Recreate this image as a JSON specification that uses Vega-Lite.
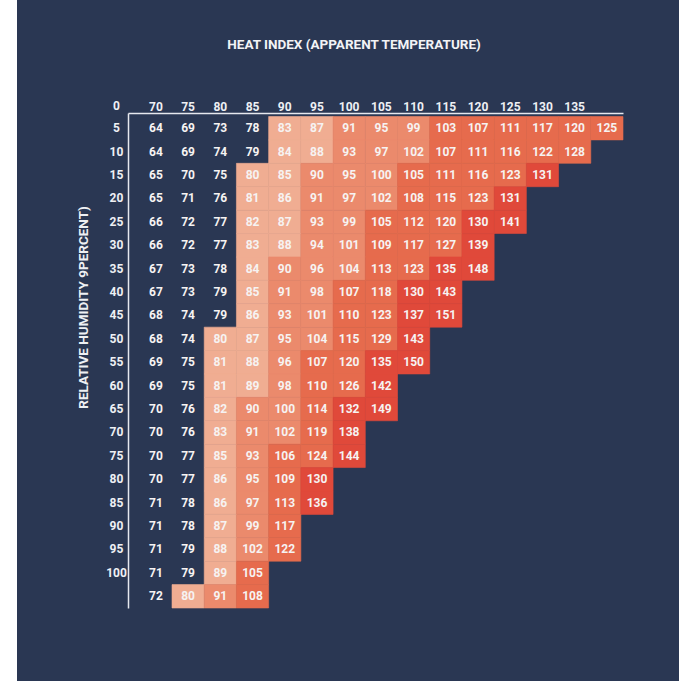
{
  "$schema": "https://vega.github.io/schema/vega-lite/v6.json",
  "width": 662,
  "height": 681,
  "autosize": {"type": "none"},
  "padding": {"left": 17, "top": 0, "right": 0, "bottom": 0},
  "background": "#ffffff",
  "view": {"fill": "#2a3753", "stroke": null},
  "title": {
    "text": "HEAT INDEX (APPARENT TEMPERATURE)",
    "anchor": "middle",
    "frame": "group",
    "offset": -58,
    "baseline": "middle",
    "dx": 6,
    "color": "#f2f3f6",
    "font": "Roboto",
    "fontSize": 13.5,
    "fontWeight": "bold"
  },
  "data": {
    "values": [
      {"t":70,"h":0,"v":64,"r":"None"},{"t":75,"h":0,"v":69,"r":"None"},{"t":80,"h":0,"v":73,"r":"None"},{"t":85,"h":0,"v":78,"r":"None"},{"t":90,"h":0,"v":83,"r":"Caution"},{"t":95,"h":0,"v":87,"r":"Caution"},{"t":100,"h":0,"v":91,"r":"Extreme caution"},{"t":105,"h":0,"v":95,"r":"Extreme caution"},{"t":110,"h":0,"v":99,"r":"Extreme caution"},{"t":115,"h":0,"v":103,"r":"Danger"},{"t":120,"h":0,"v":107,"r":"Danger"},{"t":125,"h":0,"v":111,"r":"Danger"},{"t":130,"h":0,"v":117,"r":"Danger"},{"t":135,"h":0,"v":120,"r":"Danger"},{"t":140,"h":0,"v":125,"r":"Danger"},
      {"t":70,"h":5,"v":64,"r":"None"},{"t":75,"h":5,"v":69,"r":"None"},{"t":80,"h":5,"v":74,"r":"None"},{"t":85,"h":5,"v":79,"r":"None"},{"t":90,"h":5,"v":84,"r":"Caution"},{"t":95,"h":5,"v":88,"r":"Caution"},{"t":100,"h":5,"v":93,"r":"Extreme caution"},{"t":105,"h":5,"v":97,"r":"Extreme caution"},{"t":110,"h":5,"v":102,"r":"Extreme caution"},{"t":115,"h":5,"v":107,"r":"Danger"},{"t":120,"h":5,"v":111,"r":"Danger"},{"t":125,"h":5,"v":116,"r":"Danger"},{"t":130,"h":5,"v":122,"r":"Danger"},{"t":135,"h":5,"v":128,"r":"Danger"},
      {"t":70,"h":10,"v":65,"r":"None"},{"t":75,"h":10,"v":70,"r":"None"},{"t":80,"h":10,"v":75,"r":"None"},{"t":85,"h":10,"v":80,"r":"Caution"},{"t":90,"h":10,"v":85,"r":"Caution"},{"t":95,"h":10,"v":90,"r":"Extreme caution"},{"t":100,"h":10,"v":95,"r":"Extreme caution"},{"t":105,"h":10,"v":100,"r":"Extreme caution"},{"t":110,"h":10,"v":105,"r":"Danger"},{"t":115,"h":10,"v":111,"r":"Danger"},{"t":120,"h":10,"v":116,"r":"Danger"},{"t":125,"h":10,"v":123,"r":"Danger"},{"t":130,"h":10,"v":131,"r":"Extreme danger"},
      {"t":70,"h":15,"v":65,"r":"None"},{"t":75,"h":15,"v":71,"r":"None"},{"t":80,"h":15,"v":76,"r":"None"},{"t":85,"h":15,"v":81,"r":"Caution"},{"t":90,"h":15,"v":86,"r":"Caution"},{"t":95,"h":15,"v":91,"r":"Extreme caution"},{"t":100,"h":15,"v":97,"r":"Extreme caution"},{"t":105,"h":15,"v":102,"r":"Extreme caution"},{"t":110,"h":15,"v":108,"r":"Danger"},{"t":115,"h":15,"v":115,"r":"Danger"},{"t":120,"h":15,"v":123,"r":"Danger"},{"t":125,"h":15,"v":131,"r":"Extreme danger"},
      {"t":70,"h":20,"v":66,"r":"None"},{"t":75,"h":20,"v":72,"r":"None"},{"t":80,"h":20,"v":77,"r":"None"},{"t":85,"h":20,"v":82,"r":"Caution"},{"t":90,"h":20,"v":87,"r":"Caution"},{"t":95,"h":20,"v":93,"r":"Extreme caution"},{"t":100,"h":20,"v":99,"r":"Extreme caution"},{"t":105,"h":20,"v":105,"r":"Danger"},{"t":110,"h":20,"v":112,"r":"Danger"},{"t":115,"h":20,"v":120,"r":"Danger"},{"t":120,"h":20,"v":130,"r":"Extreme danger"},{"t":125,"h":20,"v":141,"r":"Extreme danger"},
      {"t":70,"h":25,"v":66,"r":"None"},{"t":75,"h":25,"v":72,"r":"None"},{"t":80,"h":25,"v":77,"r":"None"},{"t":85,"h":25,"v":83,"r":"Caution"},{"t":90,"h":25,"v":88,"r":"Caution"},{"t":95,"h":25,"v":94,"r":"Extreme caution"},{"t":100,"h":25,"v":101,"r":"Extreme caution"},{"t":105,"h":25,"v":109,"r":"Danger"},{"t":110,"h":25,"v":117,"r":"Danger"},{"t":115,"h":25,"v":127,"r":"Danger"},{"t":120,"h":25,"v":139,"r":"Extreme danger"},
      {"t":70,"h":30,"v":67,"r":"None"},{"t":75,"h":30,"v":73,"r":"None"},{"t":80,"h":30,"v":78,"r":"None"},{"t":85,"h":30,"v":84,"r":"Caution"},{"t":90,"h":30,"v":90,"r":"Extreme caution"},{"t":95,"h":30,"v":96,"r":"Extreme caution"},{"t":100,"h":30,"v":104,"r":"Extreme caution"},{"t":105,"h":30,"v":113,"r":"Danger"},{"t":110,"h":30,"v":123,"r":"Danger"},{"t":115,"h":30,"v":135,"r":"Extreme danger"},{"t":120,"h":30,"v":148,"r":"Extreme danger"},
      {"t":70,"h":35,"v":67,"r":"None"},{"t":75,"h":35,"v":73,"r":"None"},{"t":80,"h":35,"v":79,"r":"None"},{"t":85,"h":35,"v":85,"r":"Caution"},{"t":90,"h":35,"v":91,"r":"Extreme caution"},{"t":95,"h":35,"v":98,"r":"Extreme caution"},{"t":100,"h":35,"v":107,"r":"Danger"},{"t":105,"h":35,"v":118,"r":"Danger"},{"t":110,"h":35,"v":130,"r":"Extreme danger"},{"t":115,"h":35,"v":143,"r":"Extreme danger"},
      {"t":70,"h":40,"v":68,"r":"None"},{"t":75,"h":40,"v":74,"r":"None"},{"t":80,"h":40,"v":79,"r":"None"},{"t":85,"h":40,"v":86,"r":"Caution"},{"t":90,"h":40,"v":93,"r":"Extreme caution"},{"t":95,"h":40,"v":101,"r":"Extreme caution"},{"t":100,"h":40,"v":110,"r":"Danger"},{"t":105,"h":40,"v":123,"r":"Danger"},{"t":110,"h":40,"v":137,"r":"Extreme danger"},{"t":115,"h":40,"v":151,"r":"Extreme danger"},
      {"t":70,"h":45,"v":68,"r":"None"},{"t":75,"h":45,"v":74,"r":"None"},{"t":80,"h":45,"v":80,"r":"Caution"},{"t":85,"h":45,"v":87,"r":"Caution"},{"t":90,"h":45,"v":95,"r":"Extreme caution"},{"t":95,"h":45,"v":104,"r":"Extreme caution"},{"t":100,"h":45,"v":115,"r":"Danger"},{"t":105,"h":45,"v":129,"r":"Danger"},{"t":110,"h":45,"v":143,"r":"Extreme danger"},
      {"t":70,"h":50,"v":69,"r":"None"},{"t":75,"h":50,"v":75,"r":"None"},{"t":80,"h":50,"v":81,"r":"Caution"},{"t":85,"h":50,"v":88,"r":"Caution"},{"t":90,"h":50,"v":96,"r":"Extreme caution"},{"t":95,"h":50,"v":107,"r":"Danger"},{"t":100,"h":50,"v":120,"r":"Danger"},{"t":105,"h":50,"v":135,"r":"Extreme danger"},{"t":110,"h":50,"v":150,"r":"Extreme danger"},
      {"t":70,"h":55,"v":69,"r":"None"},{"t":75,"h":55,"v":75,"r":"None"},{"t":80,"h":55,"v":81,"r":"Caution"},{"t":85,"h":55,"v":89,"r":"Caution"},{"t":90,"h":55,"v":98,"r":"Extreme caution"},{"t":95,"h":55,"v":110,"r":"Danger"},{"t":100,"h":55,"v":126,"r":"Danger"},{"t":105,"h":55,"v":142,"r":"Extreme danger"},
      {"t":70,"h":60,"v":70,"r":"None"},{"t":75,"h":60,"v":76,"r":"None"},{"t":80,"h":60,"v":82,"r":"Caution"},{"t":85,"h":60,"v":90,"r":"Extreme caution"},{"t":90,"h":60,"v":100,"r":"Extreme caution"},{"t":95,"h":60,"v":114,"r":"Danger"},{"t":100,"h":60,"v":132,"r":"Extreme danger"},{"t":105,"h":60,"v":149,"r":"Extreme danger"},
      {"t":70,"h":65,"v":70,"r":"None"},{"t":75,"h":65,"v":76,"r":"None"},{"t":80,"h":65,"v":83,"r":"Caution"},{"t":85,"h":65,"v":91,"r":"Extreme caution"},{"t":90,"h":65,"v":102,"r":"Extreme caution"},{"t":95,"h":65,"v":119,"r":"Danger"},{"t":100,"h":65,"v":138,"r":"Extreme danger"},
      {"t":70,"h":70,"v":70,"r":"None"},{"t":75,"h":70,"v":77,"r":"None"},{"t":80,"h":70,"v":85,"r":"Caution"},{"t":85,"h":70,"v":93,"r":"Extreme caution"},{"t":90,"h":70,"v":106,"r":"Danger"},{"t":95,"h":70,"v":124,"r":"Danger"},{"t":100,"h":70,"v":144,"r":"Extreme danger"},
      {"t":70,"h":75,"v":70,"r":"None"},{"t":75,"h":75,"v":77,"r":"None"},{"t":80,"h":75,"v":86,"r":"Caution"},{"t":85,"h":75,"v":95,"r":"Extreme caution"},{"t":90,"h":75,"v":109,"r":"Danger"},{"t":95,"h":75,"v":130,"r":"Extreme danger"},
      {"t":70,"h":80,"v":71,"r":"None"},{"t":75,"h":80,"v":78,"r":"None"},{"t":80,"h":80,"v":86,"r":"Caution"},{"t":85,"h":80,"v":97,"r":"Extreme caution"},{"t":90,"h":80,"v":113,"r":"Danger"},{"t":95,"h":80,"v":136,"r":"Extreme danger"},
      {"t":70,"h":85,"v":71,"r":"None"},{"t":75,"h":85,"v":78,"r":"None"},{"t":80,"h":85,"v":87,"r":"Caution"},{"t":85,"h":85,"v":99,"r":"Extreme caution"},{"t":90,"h":85,"v":117,"r":"Danger"},
      {"t":70,"h":90,"v":71,"r":"None"},{"t":75,"h":90,"v":79,"r":"None"},{"t":80,"h":90,"v":88,"r":"Caution"},{"t":85,"h":90,"v":102,"r":"Extreme caution"},{"t":90,"h":90,"v":122,"r":"Danger"},
      {"t":70,"h":95,"v":71,"r":"None"},{"t":75,"h":95,"v":79,"r":"None"},{"t":80,"h":95,"v":89,"r":"Caution"},{"t":85,"h":95,"v":105,"r":"Danger"},
      {"t":70,"h":100,"v":72,"r":"None"},{"t":75,"h":100,"v":80,"r":"Caution"},{"t":80,"h":100,"v":91,"r":"Extreme caution"},{"t":85,"h":100,"v":108,"r":"Danger"}
    ]
  },
  "encoding": {
    "x": {
      "field": "t",
      "type": "ordinal",
      "scale": {
        "domain": [70,75,80,85,90,95,100,105,110,115,120,125,130,135,140],
        "range": [111, 606],
        "paddingInner": 0,
        "paddingOuter": 0.183,
        "align": 1
      },
      "axis": {
        "orient": "top",
        "offset": -113,
        "domain": true,
        "domainColor": "#e6e8ee",
        "domainWidth": 1.5,
        "ticks": false,
        "tickSize": 0,
        "grid": false,
        "labelAngle": 0,
        "labelBaseline": "middle",
        "labelAlign": "center",
        "labelPadding": 7,
        "labelFont": "Roboto",
        "labelFontSize": 12,
        "labelFontWeight": "bold",
        "labelColor": "#eef0f4",
        "labelExpr": "datum.value == 140 ? '' : datum.value",
        "title": "0",
        "titleX": 99,
        "titleY": -8,
        "titleAngle": 0,
        "titleAlign": "center",
        "titleBaseline": "middle",
        "titleFont": "Roboto",
        "titleFontSize": 12,
        "titleFontWeight": "bold",
        "titleColor": "#eef0f4"
      }
    },
    "y": {
      "field": "h",
      "type": "ordinal",
      "scale": {
        "domain": [0,5,10,15,20,25,30,35,40,45,50,55,60,65,70,75,80,85,90,95,100],
        "range": [113, 608],
        "paddingInner": 0,
        "paddingOuter": 0.075,
        "align": 1
      },
      "axis": {
        "orient": "left",
        "offset": -111,
        "domain": true,
        "domainColor": "#e6e8ee",
        "domainWidth": 1.5,
        "ticks": false,
        "tickSize": 0,
        "grid": false,
        "labelAlign": "center",
        "labelBaseline": "middle",
        "labelPadding": 12,
        "labelFont": "Roboto",
        "labelFontSize": 12,
        "labelFontWeight": "bold",
        "labelColor": "#eef0f4",
        "labelExpr": "datum.value == 100 ? '' : datum.value + 5",
        "title": "RELATIVE HUMIDITY 9PERCENT)",
        "titleX": -45,
        "titleY": 307,
        "titleAngle": -90,
        "titleAlign": "center",
        "titleBaseline": "middle",
        "titleFont": "Roboto",
        "titleFontSize": 13.5,
        "titleFontWeight": "bold",
        "titleColor": "#eef0f4"
      }
    }
  },
  "layer": [
    {
      "transform": [{"filter": "datum.r != 'None'"}],
      "mark": {"type": "rect", "strokeWidth": 0.6},
      "encoding": {
        "color": {
          "field": "r",
          "type": "nominal",
          "scale": {
            "domain": ["Caution", "Extreme caution", "Danger", "Extreme danger"],
            "range": ["#f0ad92", "#eb8a6c", "#e66b4d", "#e0493a"]
          },
          "legend": null
        },
        "stroke": {
          "field": "r",
          "type": "nominal",
          "scale": {
            "domain": ["Caution", "Extreme caution", "Danger", "Extreme danger"],
            "range": ["#f0ad92", "#eb8a6c", "#e66b4d", "#e0493a"]
          },
          "legend": null
        }
      }
    },
    {
      "mark": {
        "type": "text",
        "font": "Roboto",
        "fontSize": 12,
        "fontWeight": "bold",
        "color": "#f6f3f2",
        "baseline": "middle",
        "align": "center"
      },
      "encoding": {
        "text": {"field": "v", "type": "quantitative"}
      }
    }
  ]
}
